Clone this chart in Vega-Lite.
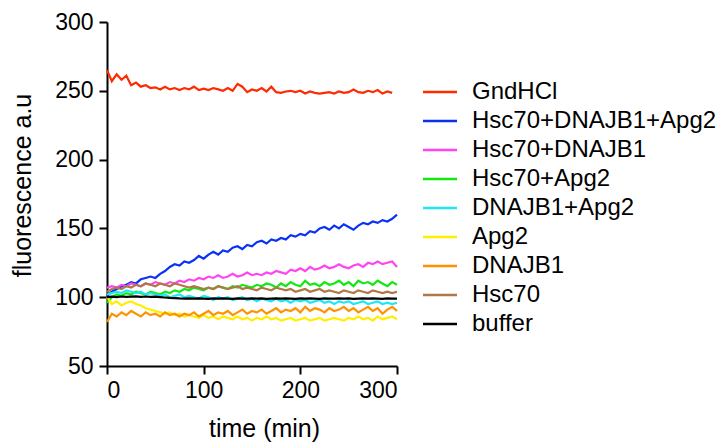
{
  "$schema": "https://vega.github.io/schema/vega-lite/v6.json",
  "autosize": "none",
  "width": 290,
  "height": 344,
  "padding": {"left": 107, "top": 22, "right": 328, "bottom": 77},
  "background": "white",
  "config": {
    "view": {"stroke": null},
    "font": "Liberation Sans",
    "axis": {
      "grid": false,
      "domainColor": "black",
      "domainWidth": 2,
      "tickColor": "black",
      "tickWidth": 2,
      "tickSize": 8,
      "labelFontSize": 23,
      "labelColor": "black",
      "labelFont": "Liberation Sans",
      "titleFont": "Liberation Sans",
      "titleFontSize": 25,
      "titleFontWeight": "normal",
      "titleColor": "black"
    },
    "legend": {
      "labelFontSize": 24,
      "labelFont": "Liberation Sans",
      "labelColor": "black",
      "labelLimit": 400,
      "symbolType": "M-1.7,0H1.7",
      "symbolStrokeWidth": 2.5,
      "symbolSize": 400,
      "rowPadding": 5,
      "labelOffset": 20
    }
  },
  "data": {"values": [
    {"t":0,"GndHCl":265,"Hsc70+DNAJB1+Apg2":101,"Hsc70+DNAJB1":107,"Hsc70+Apg2":96,"DNAJB1+Apg2":102,"Apg2":100,"DNAJB1":82,"Hsc70":104,"buffer":100},
    {"t":5,"GndHCl":257,"Hsc70+DNAJB1+Apg2":104,"Hsc70+DNAJB1":108,"Hsc70+Apg2":100,"DNAJB1+Apg2":103,"Apg2":95,"DNAJB1":88,"Hsc70":106,"buffer":100.4},
    {"t":10,"GndHCl":262,"Hsc70+DNAJB1+Apg2":106,"Hsc70+DNAJB1":107,"Hsc70+Apg2":102,"DNAJB1+Apg2":104,"Apg2":97,"DNAJB1":86,"Hsc70":107,"buffer":100.1},
    {"t":15,"GndHCl":258,"Hsc70+DNAJB1+Apg2":108,"Hsc70+DNAJB1":109,"Hsc70+Apg2":101,"DNAJB1+Apg2":103,"Apg2":94,"DNAJB1":89,"Hsc70":106,"buffer":100.5},
    {"t":20,"GndHCl":261,"Hsc70+DNAJB1+Apg2":109,"Hsc70+DNAJB1":108,"Hsc70+Apg2":103,"DNAJB1+Apg2":105,"Apg2":96,"DNAJB1":87,"Hsc70":108,"buffer":100.2},
    {"t":25,"GndHCl":254,"Hsc70+DNAJB1+Apg2":111,"Hsc70+DNAJB1":110,"Hsc70+Apg2":102,"DNAJB1+Apg2":104,"Apg2":97,"DNAJB1":90,"Hsc70":107,"buffer":100.4},
    {"t":30,"GndHCl":256,"Hsc70+DNAJB1+Apg2":110,"Hsc70+DNAJB1":109,"Hsc70+Apg2":104,"DNAJB1+Apg2":103,"Apg2":95,"DNAJB1":88,"Hsc70":109,"buffer":100.6},
    {"t":35,"GndHCl":253,"Hsc70+DNAJB1+Apg2":113,"Hsc70+DNAJB1":108,"Hsc70+Apg2":103,"DNAJB1+Apg2":104,"Apg2":94,"DNAJB1":86,"Hsc70":108,"buffer":100.3},
    {"t":40,"GndHCl":254,"Hsc70+DNAJB1+Apg2":114,"Hsc70+DNAJB1":110,"Hsc70+Apg2":102,"DNAJB1+Apg2":102,"Apg2":92,"DNAJB1":89,"Hsc70":110,"buffer":100.5},
    {"t":45,"GndHCl":252,"Hsc70+DNAJB1+Apg2":115,"Hsc70+DNAJB1":109,"Hsc70+Apg2":104,"DNAJB1+Apg2":103,"Apg2":91,"DNAJB1":87,"Hsc70":109,"buffer":100.2},
    {"t":50,"GndHCl":252.5,"Hsc70+DNAJB1+Apg2":114,"Hsc70+DNAJB1":111,"Hsc70+Apg2":103,"DNAJB1+Apg2":102,"Apg2":90,"DNAJB1":88,"Hsc70":108,"buffer":100.4},
    {"t":55,"GndHCl":251,"Hsc70+DNAJB1+Apg2":117,"Hsc70+DNAJB1":110,"Hsc70+Apg2":102,"DNAJB1+Apg2":101,"Apg2":89,"DNAJB1":86,"Hsc70":110,"buffer":100.1},
    {"t":60,"GndHCl":253,"Hsc70+DNAJB1+Apg2":119,"Hsc70+DNAJB1":109,"Hsc70+Apg2":104,"DNAJB1+Apg2":102,"Apg2":88,"DNAJB1":89,"Hsc70":109,"buffer":99.8},
    {"t":65,"GndHCl":251,"Hsc70+DNAJB1+Apg2":122,"Hsc70+DNAJB1":111,"Hsc70+Apg2":103,"DNAJB1+Apg2":100,"Apg2":89,"DNAJB1":87,"Hsc70":108,"buffer":99.5},
    {"t":70,"GndHCl":252,"Hsc70+DNAJB1+Apg2":124,"Hsc70+DNAJB1":110,"Hsc70+Apg2":105,"DNAJB1+Apg2":101,"Apg2":87,"DNAJB1":88,"Hsc70":110,"buffer":99.3},
    {"t":75,"GndHCl":250.5,"Hsc70+DNAJB1+Apg2":123,"Hsc70+DNAJB1":112,"Hsc70+Apg2":104,"DNAJB1+Apg2":102,"Apg2":88,"DNAJB1":86,"Hsc70":109,"buffer":99.1},
    {"t":80,"GndHCl":252,"Hsc70+DNAJB1+Apg2":126,"Hsc70+DNAJB1":111,"Hsc70+Apg2":106,"DNAJB1+Apg2":100,"Apg2":86,"DNAJB1":88,"Hsc70":108,"buffer":99},
    {"t":85,"GndHCl":251,"Hsc70+DNAJB1+Apg2":125,"Hsc70+DNAJB1":113,"Hsc70+Apg2":105,"DNAJB1+Apg2":101,"Apg2":87,"DNAJB1":87,"Hsc70":107,"buffer":99.2},
    {"t":90,"GndHCl":253,"Hsc70+DNAJB1+Apg2":127,"Hsc70+DNAJB1":112,"Hsc70+Apg2":107,"DNAJB1+Apg2":100,"Apg2":86,"DNAJB1":89,"Hsc70":108,"buffer":98.9},
    {"t":95,"GndHCl":250.5,"Hsc70+DNAJB1+Apg2":130,"Hsc70+DNAJB1":114,"Hsc70+Apg2":106,"DNAJB1+Apg2":99,"Apg2":85,"DNAJB1":86,"Hsc70":107,"buffer":99.1},
    {"t":100,"GndHCl":251.5,"Hsc70+DNAJB1+Apg2":128,"Hsc70+DNAJB1":113,"Hsc70+Apg2":105,"DNAJB1+Apg2":101,"Apg2":87,"DNAJB1":88,"Hsc70":106,"buffer":99},
    {"t":105,"GndHCl":250.5,"Hsc70+DNAJB1+Apg2":131,"Hsc70+DNAJB1":115,"Hsc70+Apg2":107,"DNAJB1+Apg2":100,"Apg2":85,"DNAJB1":90,"Hsc70":107,"buffer":98.8},
    {"t":110,"GndHCl":252,"Hsc70+DNAJB1+Apg2":133,"Hsc70+DNAJB1":114,"Hsc70+Apg2":106,"DNAJB1+Apg2":98,"Apg2":86,"DNAJB1":87,"Hsc70":106,"buffer":99.1},
    {"t":115,"GndHCl":251,"Hsc70+DNAJB1+Apg2":131,"Hsc70+DNAJB1":116,"Hsc70+Apg2":108,"DNAJB1+Apg2":100,"Apg2":84,"DNAJB1":89,"Hsc70":108,"buffer":98.9},
    {"t":120,"GndHCl":250,"Hsc70+DNAJB1+Apg2":134,"Hsc70+DNAJB1":114,"Hsc70+Apg2":107,"DNAJB1+Apg2":99,"Apg2":86,"DNAJB1":88,"Hsc70":107,"buffer":99.2},
    {"t":125,"GndHCl":252,"Hsc70+DNAJB1+Apg2":133,"Hsc70+DNAJB1":115,"Hsc70+Apg2":106,"DNAJB1+Apg2":100,"Apg2":85,"DNAJB1":90,"Hsc70":106,"buffer":99},
    {"t":130,"GndHCl":250,"Hsc70+DNAJB1+Apg2":136,"Hsc70+DNAJB1":117,"Hsc70+Apg2":108,"DNAJB1+Apg2":98,"Apg2":84,"DNAJB1":87,"Hsc70":107,"buffer":98.8},
    {"t":135,"GndHCl":255,"Hsc70+DNAJB1+Apg2":137,"Hsc70+DNAJB1":115,"Hsc70+Apg2":107,"DNAJB1+Apg2":99,"Apg2":86,"DNAJB1":89,"Hsc70":108,"buffer":99.1},
    {"t":140,"GndHCl":253,"Hsc70+DNAJB1+Apg2":135,"Hsc70+DNAJB1":116,"Hsc70+Apg2":109,"DNAJB1+Apg2":100,"Apg2":84,"DNAJB1":91,"Hsc70":106,"buffer":98.9},
    {"t":145,"GndHCl":249,"Hsc70+DNAJB1+Apg2":138,"Hsc70+DNAJB1":118,"Hsc70+Apg2":108,"DNAJB1+Apg2":98,"Apg2":85,"DNAJB1":88,"Hsc70":107,"buffer":99},
    {"t":150,"GndHCl":251,"Hsc70+DNAJB1+Apg2":137,"Hsc70+DNAJB1":116,"Hsc70+Apg2":107,"DNAJB1+Apg2":99,"Apg2":83,"DNAJB1":90,"Hsc70":106,"buffer":99.2},
    {"t":155,"GndHCl":250,"Hsc70+DNAJB1+Apg2":140,"Hsc70+DNAJB1":117,"Hsc70+Apg2":109,"DNAJB1+Apg2":97,"Apg2":85,"DNAJB1":89,"Hsc70":105,"buffer":98.9},
    {"t":160,"GndHCl":252,"Hsc70+DNAJB1+Apg2":141,"Hsc70+DNAJB1":116,"Hsc70+Apg2":108,"DNAJB1+Apg2":99,"Apg2":84,"DNAJB1":91,"Hsc70":107,"buffer":99.1},
    {"t":165,"GndHCl":249.5,"Hsc70+DNAJB1+Apg2":139,"Hsc70+DNAJB1":118,"Hsc70+Apg2":110,"DNAJB1+Apg2":98,"Apg2":86,"DNAJB1":88,"Hsc70":106,"buffer":98.8},
    {"t":170,"GndHCl":253,"Hsc70+DNAJB1+Apg2":142,"Hsc70+DNAJB1":117,"Hsc70+Apg2":109,"DNAJB1+Apg2":97,"Apg2":84,"DNAJB1":90,"Hsc70":105,"buffer":99},
    {"t":175,"GndHCl":249,"Hsc70+DNAJB1+Apg2":141,"Hsc70+DNAJB1":119,"Hsc70+Apg2":107,"DNAJB1+Apg2":99,"Apg2":85,"DNAJB1":92,"Hsc70":107,"buffer":99.2},
    {"t":180,"GndHCl":248.5,"Hsc70+DNAJB1+Apg2":143,"Hsc70+DNAJB1":118,"Hsc70+Apg2":110,"DNAJB1+Apg2":97,"Apg2":83,"DNAJB1":89,"Hsc70":106,"buffer":98.9},
    {"t":185,"GndHCl":249.5,"Hsc70+DNAJB1+Apg2":142,"Hsc70+DNAJB1":117,"Hsc70+Apg2":108,"DNAJB1+Apg2":98,"Apg2":84,"DNAJB1":91,"Hsc70":105,"buffer":99.1},
    {"t":190,"GndHCl":250,"Hsc70+DNAJB1+Apg2":145,"Hsc70+DNAJB1":120,"Hsc70+Apg2":111,"DNAJB1+Apg2":96,"Apg2":85,"DNAJB1":90,"Hsc70":106,"buffer":99},
    {"t":195,"GndHCl":249,"Hsc70+DNAJB1+Apg2":144,"Hsc70+DNAJB1":119,"Hsc70+Apg2":109,"DNAJB1+Apg2":98,"Apg2":83,"DNAJB1":92,"Hsc70":104,"buffer":98.8},
    {"t":200,"GndHCl":250,"Hsc70+DNAJB1+Apg2":146,"Hsc70+DNAJB1":121,"Hsc70+Apg2":108,"DNAJB1+Apg2":97,"Apg2":84,"DNAJB1":89,"Hsc70":105,"buffer":99.1},
    {"t":205,"GndHCl":248,"Hsc70+DNAJB1+Apg2":145,"Hsc70+DNAJB1":119,"Hsc70+Apg2":112,"DNAJB1+Apg2":98,"Apg2":85,"DNAJB1":93,"Hsc70":106,"buffer":98.9},
    {"t":210,"GndHCl":249.5,"Hsc70+DNAJB1+Apg2":148,"Hsc70+DNAJB1":122,"Hsc70+Apg2":109,"DNAJB1+Apg2":96,"Apg2":83,"DNAJB1":90,"Hsc70":104,"buffer":99.2},
    {"t":215,"GndHCl":248.5,"Hsc70+DNAJB1+Apg2":147,"Hsc70+DNAJB1":120,"Hsc70+Apg2":110,"DNAJB1+Apg2":97,"Apg2":84,"DNAJB1":92,"Hsc70":105,"buffer":99},
    {"t":220,"GndHCl":248,"Hsc70+DNAJB1+Apg2":150,"Hsc70+DNAJB1":121,"Hsc70+Apg2":108,"DNAJB1+Apg2":98,"Apg2":85,"DNAJB1":91,"Hsc70":106,"buffer":98.8},
    {"t":225,"GndHCl":248.5,"Hsc70+DNAJB1+Apg2":151,"Hsc70+DNAJB1":123,"Hsc70+Apg2":111,"DNAJB1+Apg2":96,"Apg2":83,"DNAJB1":89,"Hsc70":104,"buffer":99.1},
    {"t":230,"GndHCl":249,"Hsc70+DNAJB1+Apg2":149,"Hsc70+DNAJB1":121,"Hsc70+Apg2":109,"DNAJB1+Apg2":97,"Apg2":84,"DNAJB1":92,"Hsc70":105,"buffer":98.9},
    {"t":235,"GndHCl":248,"Hsc70+DNAJB1+Apg2":152,"Hsc70+DNAJB1":122,"Hsc70+Apg2":110,"DNAJB1+Apg2":95,"Apg2":85,"DNAJB1":90,"Hsc70":104,"buffer":99},
    {"t":240,"GndHCl":249.5,"Hsc70+DNAJB1+Apg2":150,"Hsc70+DNAJB1":124,"Hsc70+Apg2":112,"DNAJB1+Apg2":97,"Apg2":84,"DNAJB1":91,"Hsc70":103,"buffer":99.2},
    {"t":245,"GndHCl":248.5,"Hsc70+DNAJB1+Apg2":153,"Hsc70+DNAJB1":122,"Hsc70+Apg2":109,"DNAJB1+Apg2":96,"Apg2":83,"DNAJB1":93,"Hsc70":105,"buffer":98.9},
    {"t":250,"GndHCl":249,"Hsc70+DNAJB1+Apg2":151,"Hsc70+DNAJB1":121,"Hsc70+Apg2":111,"DNAJB1+Apg2":97,"Apg2":85,"DNAJB1":90,"Hsc70":104,"buffer":99.1},
    {"t":255,"GndHCl":251,"Hsc70+DNAJB1+Apg2":149,"Hsc70+DNAJB1":123,"Hsc70+Apg2":108,"DNAJB1+Apg2":95,"Apg2":84,"DNAJB1":92,"Hsc70":103,"buffer":98.8},
    {"t":260,"GndHCl":249,"Hsc70+DNAJB1+Apg2":152,"Hsc70+DNAJB1":124,"Hsc70+Apg2":112,"DNAJB1+Apg2":96,"Apg2":86,"DNAJB1":89,"Hsc70":105,"buffer":99},
    {"t":265,"GndHCl":248.5,"Hsc70+DNAJB1+Apg2":154,"Hsc70+DNAJB1":122,"Hsc70+Apg2":110,"DNAJB1+Apg2":97,"Apg2":84,"DNAJB1":91,"Hsc70":104,"buffer":99.2},
    {"t":270,"GndHCl":250,"Hsc70+DNAJB1+Apg2":153,"Hsc70+DNAJB1":125,"Hsc70+Apg2":111,"DNAJB1+Apg2":95,"Apg2":85,"DNAJB1":93,"Hsc70":103,"buffer":98.9},
    {"t":275,"GndHCl":249,"Hsc70+DNAJB1+Apg2":155,"Hsc70+DNAJB1":124,"Hsc70+Apg2":109,"DNAJB1+Apg2":96,"Apg2":83,"DNAJB1":90,"Hsc70":105,"buffer":99.1},
    {"t":280,"GndHCl":250.5,"Hsc70+DNAJB1+Apg2":154,"Hsc70+DNAJB1":126,"Hsc70+Apg2":112,"DNAJB1+Apg2":97,"Apg2":86,"DNAJB1":92,"Hsc70":104,"buffer":99},
    {"t":285,"GndHCl":248,"Hsc70+DNAJB1+Apg2":156,"Hsc70+DNAJB1":124,"Hsc70+Apg2":110,"DNAJB1+Apg2":95,"Apg2":84,"DNAJB1":88,"Hsc70":103,"buffer":98.8},
    {"t":290,"GndHCl":249.5,"Hsc70+DNAJB1+Apg2":155,"Hsc70+DNAJB1":125,"Hsc70+Apg2":108,"DNAJB1+Apg2":96,"Apg2":85,"DNAJB1":91,"Hsc70":104,"buffer":99.1},
    {"t":295,"GndHCl":248.5,"Hsc70+DNAJB1+Apg2":157,"Hsc70+DNAJB1":126,"Hsc70+Apg2":111,"DNAJB1+Apg2":95,"Apg2":86,"DNAJB1":93,"Hsc70":103,"buffer":98.9},
    {"t":300,"GndHCl":null,"Hsc70+DNAJB1+Apg2":160,"Hsc70+DNAJB1":122,"Hsc70+Apg2":109,"DNAJB1+Apg2":96,"Apg2":84,"DNAJB1":90,"Hsc70":104,"buffer":99}
  ]},
  "transform": [
    {"fold": ["GndHCl","Hsc70+DNAJB1+Apg2","Hsc70+DNAJB1","Hsc70+Apg2","Apg2","DNAJB1","DNAJB1+Apg2","Hsc70","buffer"], "as": ["series","value"]},
    {"filter": "isValid(datum.value)"}
  ],
  "mark": {"type": "line", "strokeWidth": 2.2, "clip": false},
  "encoding": {
    "x": {
      "field": "t", "type": "quantitative",
      "scale": {"domain": [0, 300], "nice": false, "zero": false},
      "axis": {"values": [0, 100, 200, 300], "title": "time (min)", "labelPadding": 5, "titleX": 157, "titleY": 50, "titleBaseline": "top"}
    },
    "y": {
      "field": "value", "type": "quantitative",
      "scale": {"domain": [50, 300], "nice": false, "zero": false},
      "axis": {"values": [50, 100, 150, 200, 250, 300], "title": "fluorescence a.u", "labelPadding": 6, "titlePadding": 19, "titleY": 163}
    },
    "color": {
      "field": "series", "type": "nominal",
      "scale": {
        "domain": ["GndHCl","Hsc70+DNAJB1+Apg2","Hsc70+DNAJB1","Hsc70+Apg2","DNAJB1+Apg2","Apg2","DNAJB1","Hsc70","buffer"],
        "range": ["#ff2a00","#0a32f5","#ff44f0","#12e812","#1ee8f8","#ffee00","#ff9200","#b07846","#000000"]
      },
      "legend": {"title": null, "orient": "none", "legendX": 321, "legendY": 58}
    }
  }
}
